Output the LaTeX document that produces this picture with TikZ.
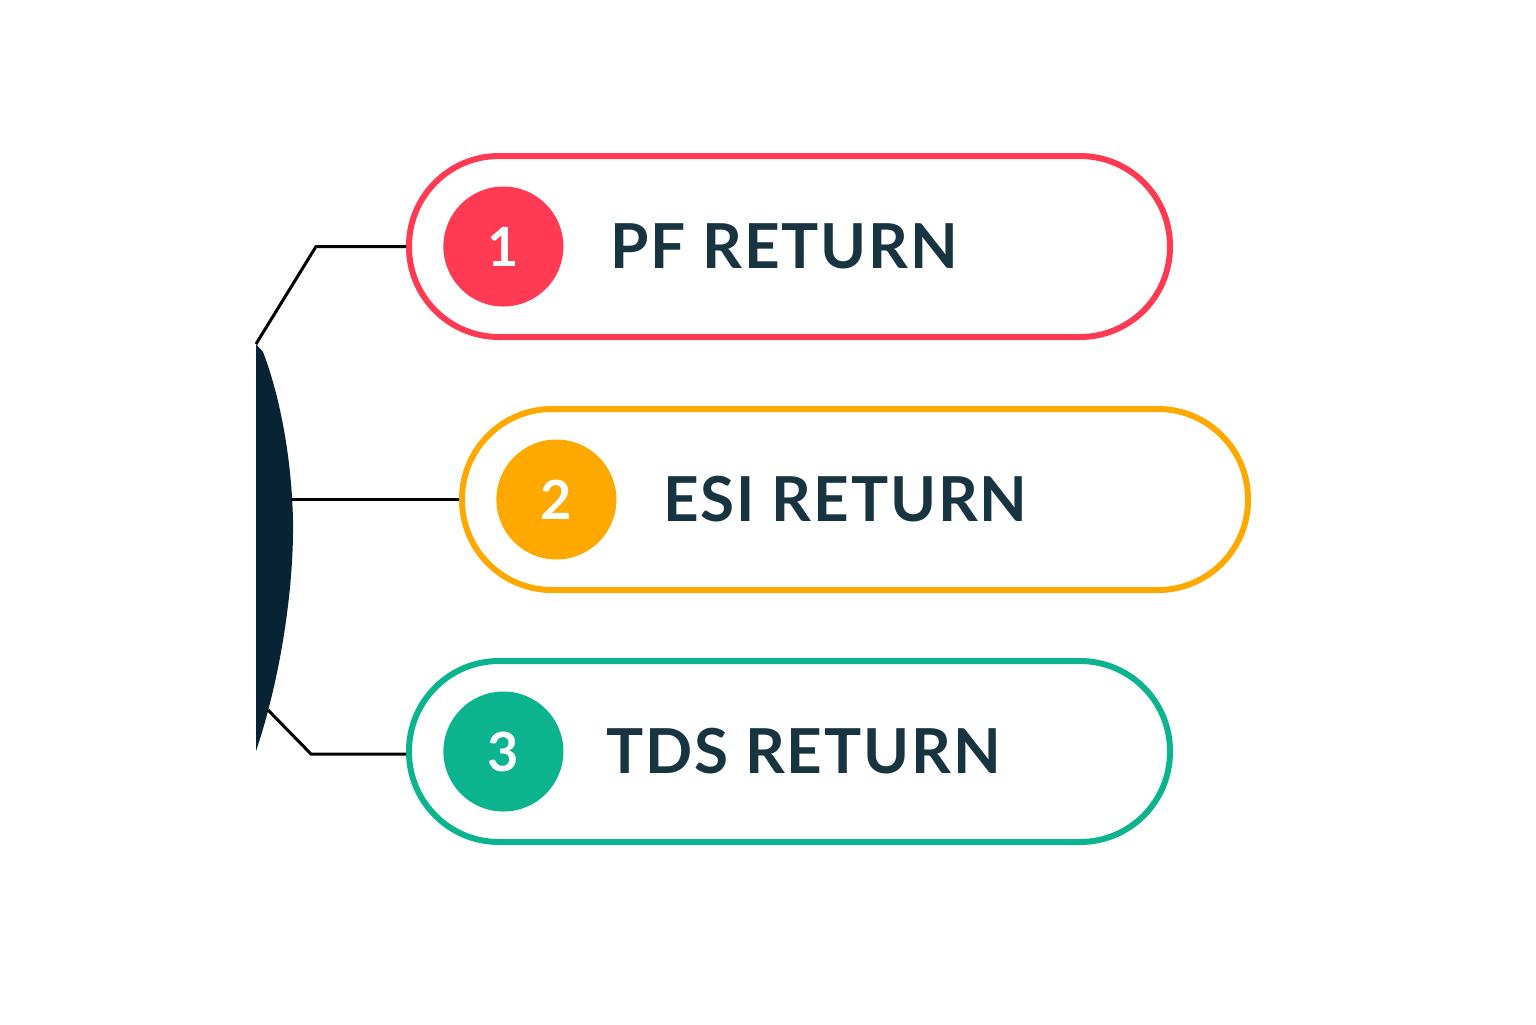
\documentclass[tikz,border=0pt]{standalone}
\usepackage{fontspec}
\setmainfont{Lato}
\usetikzlibrary{positioning}
\definecolor{pfred}{HTML}{FF3A52}
\definecolor{esiorange}{HTML}{FFA800}
\definecolor{tdsteal}{HTML}{0BB48F}
\definecolor{textnavy}{HTML}{173440}
\definecolor{barnavy}{HTML}{082334}

\begin{document}
\begin{tikzpicture}[x=0.5pt,y=-0.5pt,
  pill/.style={draw, line width=3pt, rounded corners=45pt, minimum height=90.5pt, inner sep=0pt},
  badge/.style={circle, minimum size=60pt, inner sep=0pt, text=white, font=\fontsize{27}{27}\selectfont\bfseries},
  title/.style={inner sep=0pt, text=textnavy, font=\fontsize{31}{31}\selectfont\bfseries\addfontfeature{LetterSpace=3}},
  link/.style={line width=1.5pt, black}]
\useasboundingbox (0,0) rectangle (1536,1024);

% the three returns
\node [pill, draw=pfred, minimum width=380.5pt] (pf) at (789.5,246.5) {};
\node [badge, fill=pfred, right=18.5pt of pf.west] (n1) {1};
\node [title, right=23pt of n1] (t1) {PF RETURN};

\node [pill, draw=esiorange, minimum width=393pt] (esi) at (855,499.5) {};
\node [badge, fill=esiorange, right=18.5pt of esi.west] (n2) {2};
\node [title, right=23pt of n2] (t2) {ESI RETURN};

\node [pill, draw=tdsteal, minimum width=380.5pt] (tds) at (789.5,751.5) {};
\node [badge, fill=tdsteal, right=18.5pt of tds.west] (n3) {3};
\node [title, right=21pt of n3] (t3) {TDS RETURN};

% bracket
\coordinate (top) at (256,344);
\coordinate (tip) at (256,751);
\coordinate (mid) at (291,499.5);
\coordinate (low) at (268,710);
\coordinate (k1) at (316,246.5);
\coordinate (k3) at (311,754);
\fill [barnavy] (top) -- (tip) .. controls (280,680) and (294,590) .. (293,520) .. controls (291,440) and (274,380) .. (263,352) -- cycle;

\draw [link] (pf.west) -- (k1) -- (top);
\draw [link] (esi.west) -- (mid);
\draw [link] (tds.west |- k3) -- (k3) -- (low);

\end{tikzpicture}
\end{document}
